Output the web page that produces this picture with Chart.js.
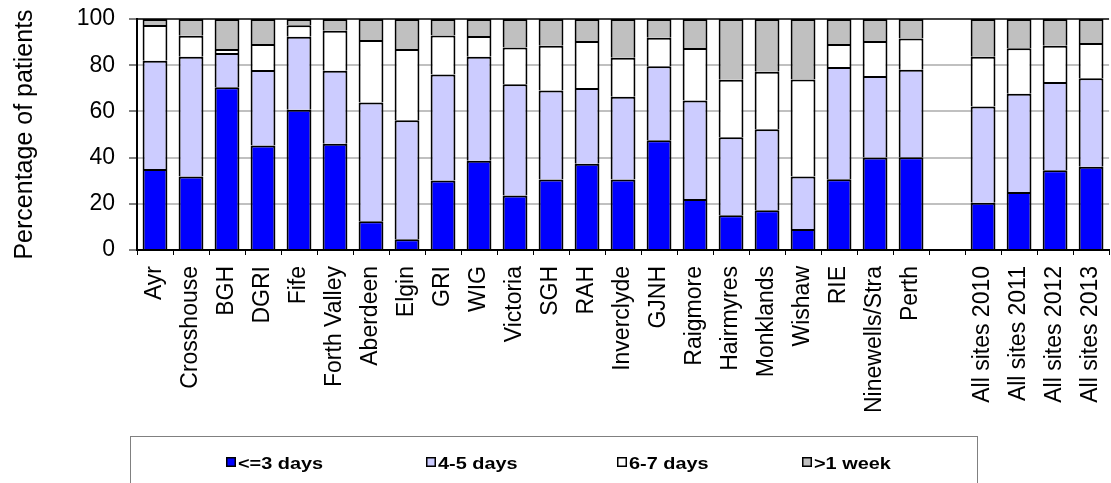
<!DOCTYPE html>
<html>
<head>
<meta charset="utf-8">
<script src="https://cdn.jsdelivr.net/npm/chart.js@4"></script>
<style>
    html, body { margin: 0; padding: 0; background: #fff; overflow: hidden; }
    #wrap { width: 1111px; height: 483px; overflow: hidden; }
</style>
</head>
<body>
<div id="wrap">
    <canvas id="losChart" width="1130" height="483"></canvas>
</div>
<script>
// ============================================
// DATA
// ============================================
const sites = ['Ayr', 'Crosshouse', 'BGH', 'DGRI', 'Fife', 'Forth Valley', 'Aberdeen', 'Elgin', 'GRI', 'WIG',
    'Victoria', 'SGH', 'RAH', 'Inverclyde', 'GJNH', 'Raigmore', 'Hairmyres', 'Monklands', 'Wishaw', 'RIE',
    'Ninewells/Stra', 'Perth', '', 'All sites 2010', 'All sites 2011', 'All sites 2012', 'All sites 2013'];

const upTo3Days = [35.1, 31.8, 70.5, 45.2, 60.7, 46.0, 12.4, 4.6, 30.1, 38.6,
    23.6, 30.5, 37.3, 30.5, 47.5, 22.1, 15.0, 17.2, 9.1, 30.6,
    40.0, 40.2, null, 20.5, 25.1, 34.5, 36.0];
const days4to5 = [46.8, 51.9, 14.8, 32.7, 31.6, 31.6, 51.5, 51.6, 45.9, 45.1,
    48.1, 38.6, 32.8, 35.8, 32.0, 42.6, 33.8, 35.1, 22.7, 48.6,
    35.3, 37.8, null, 41.6, 42.5, 38.2, 38.3];
const days6to7 = [15.5, 9.1, 1.7, 11.3, 5.0, 17.3, 27.0, 30.8, 16.9, 8.9,
    16.0, 19.3, 20.4, 16.9, 12.4, 22.7, 24.9, 24.9, 42.0, 10.0,
    15.2, 13.6, null, 21.6, 19.7, 15.7, 15.3];
const overWeek = [2.6, 7.2, 13.0, 10.8, 2.7, 5.1, 9.1, 13.0, 7.1, 7.4,
    12.3, 11.6, 9.5, 16.8, 8.1, 12.6, 26.3, 22.8, 26.2, 10.8,
    9.5, 8.4, null, 16.3, 12.7, 11.6, 10.4];

const seriesNames = ['<=3 days', '4-5 days', '6-7 days', '>1 week'];
const seriesColors = ['#0000ff', '#ccccff', '#ffffff', '#c0c0c0'];
const yTicks = [0, 20, 40, 60, 80, 100];

const FONT = '"Liberation Sans", Arial, sans-serif';

// ============================================
// LEGEND (boxed, drawn under the axis labels)
// ============================================
const boxedLegend = {
    id: 'boxedLegend',
    afterDraw(chart) {
        const { ctx, chartArea } = chart;
        const left = chartArea.left - 7;
        const top = 436;
        const right = 977;
        const bottom = 500;
        const offsets = [96, 296, 487, 672];

        ctx.save();
        ctx.strokeStyle = '#808080';
        ctx.lineWidth = 1;
        ctx.strokeRect(left + 0.5, top + 0.5, right - left, bottom - top);

        ctx.font = 'bold 17px ' + FONT;
        ctx.textBaseline = 'alphabetic';
        ctx.textAlign = 'left';
        chart.data.datasets.forEach((ds, i) => {
            const x = left + offsets[i];
            ctx.fillStyle = ds.backgroundColor;
            ctx.fillRect(x, 457, 10, 10);
            ctx.strokeStyle = '#000';
            ctx.lineWidth = 1.5;
            ctx.strokeRect(x + 0.75, 457.75, 8.5, 8.5);
            ctx.fillStyle = '#000';
            ctx.save();
            ctx.translate(x + 12, 469);
            ctx.scale(1.17, 1);
            ctx.fillText(ds.label, 0, 0);
            ctx.restore();
        });
        ctx.restore();
    }
};

// ============================================
// CHART
// ============================================
const seriesData = [upTo3Days, days4to5, days6to7, overWeek];

new Chart(document.getElementById('losChart'), {
    type: 'bar',
    data: {
        labels: sites,
        datasets: seriesNames.map((name, i) => ({
            label: name,
            data: seriesData[i],
            backgroundColor: seriesColors[i],
            borderColor: '#000000',
            borderWidth: 2,
            categoryPercentage: 1,
            barPercentage: 0.69,
        }))
    },
    options: {
        responsive: false,
        animation: false,
        layout: { padding: { left: 0, top: 19, right: 18, bottom: 0 } },
        plugins: {
            legend: { display: false },
            tooltip: { enabled: false },
        },
        scales: {
            x: {
                stacked: true,
                afterFit: scale => { scale.height = 233; },
                grid: {
                    offset: true,
                    drawOnChartArea: false,
                    drawTicks: true,
                    tickLength: 5,
                    tickColor: '#000',
                    tickWidth: 1,
                },
                border: { display: true, color: '#000', width: 2 },
                ticks: {
                    autoSkip: false,
                    maxRotation: 90,
                    minRotation: 90,
                    padding: 11,
                    color: '#000',
                    font: { family: FONT, size: 23 },
                }
            },
            y: {
                stacked: true,
                min: 0,
                max: 100,
                afterFit: scale => {
                    scale.width = 137;
                    // tick padding would otherwise push the plot top down
                    scale.paddingTop = 0;
                    scale.paddingBottom = 0;
                },
                afterBuildTicks: scale => { scale.ticks = yTicks.map(v => ({ value: v })); },
                grid: {
                    color: c => (c.tick && c.tick.value === 100) ? '#404040' : '#c0c0c0',
                    lineWidth: 2,
                    tickLength: 8,
                    tickColor: '#000',
                    tickWidth: 1,
                },
                border: { display: true, color: '#000', width: 2 },
                ticks: {
                    padding: 14,
                    color: '#000',
                    font: { family: FONT, size: 23 },
                },
                title: {
                    display: true,
                    text: 'Percentage of patients',
                    color: '#000',
                    font: { family: FONT, size: 25 },
                    padding: { top: 10, bottom: 0 },
                }
            }
        }
    },
    plugins: [boxedLegend]
});
</script>
</body>
</html>
